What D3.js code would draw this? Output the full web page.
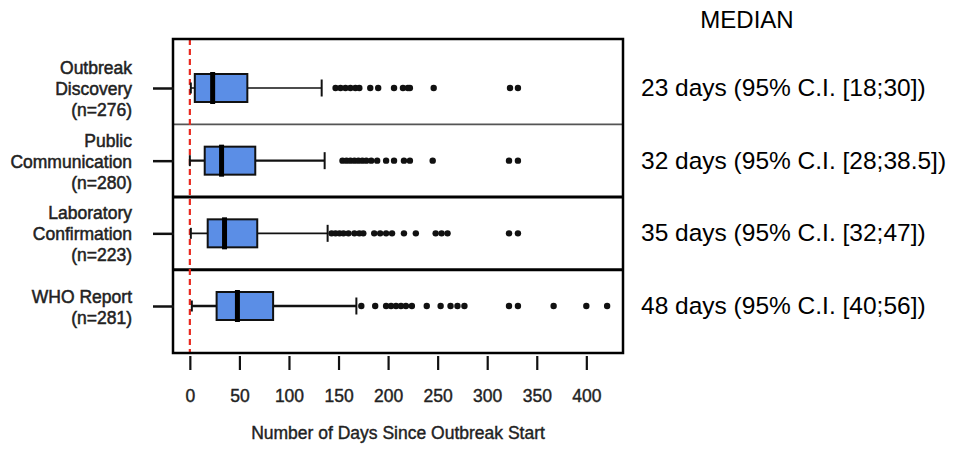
<!DOCTYPE html>
<html>
<head>
<meta charset="utf-8">
<script src="https://cdn.jsdelivr.net/npm/d3@7"></script>
<style>
    body { margin: 0; background: #fff; }
    svg { display: block; font-family: "Liberation Sans", Arial, sans-serif; }
</style>
</head>
<body>
<script>
// rows, top to bottom
const categories = ["Outbreak Discovery", "Public Communication", "Laboratory Confirmation", "WHO Report"];
const labelLines = [
    ["Outbreak", "Discovery", "(n=276)"],
    ["Public", "Communication", "(n=280)"],
    ["Laboratory", "Confirmation", "(n=223)"],
    ["WHO Report", "(n=281)"]
];

// box plot stats (days)
const whiskerLow = [1, 0, 1, 2];
const q1 = [5, 15, 18, 27];
const medians = [23, 32, 35, 48];
const q3 = [58, 66, 68, 84];
const whiskerHigh = [133, 136, 139, 168];

const outliers = [
    [147, 152, 157, 162, 167, 171, 182, 190, 206, 215, 220, 222, 246, 323, 331],
    [154, 158, 162, 166, 170, 174, 178, 183, 189, 198, 206, 216, 222, 245, 322, 331],
    [143, 147, 151, 155, 160, 166, 171, 175, 186, 192, 198, 204, 216, 228, 248, 254, 260, 322, 331],
    [173, 187, 198, 203, 208, 213, 218, 224, 239, 253, 263, 270, 277, 322, 331, 367, 400, 421]
];

// median with 95% C.I.
const ciLow = [18, 28, 32, 40];
const ciHigh = [30, 38.5, 47, 56];

const xTicks = [0, 50, 100, 150, 200, 250, 300, 350, 400];

const width = 961;
const height = 449;
const frame = { left: 173, right: 623, top: 39, bottom: 353 };

const svg = d3.select("body").append("svg")
    .attr("width", width)
    .attr("height", height);

const xScale = d3.scaleLinear()
    .domain([-17, 437])
    .range([frame.left, frame.right]);

const yScale = d3.scalePoint()
    .domain(categories)
    .range([88, 306]);

const step = yScale.step();

// row separators
categories.slice(1).forEach((c, i) => {
    svg.append("line")
        .attr("x1", frame.left).attr("x2", frame.right)
        .attr("y1", yScale(c) - step / 2).attr("y2", yScale(c) - step / 2)
        .attr("stroke", i === 0 ? "#555" : "#000")
        .attr("stroke-width", i === 0 ? 1.8 : 3);
});

// zero reference line
svg.append("line")
    .attr("x1", xScale(0)).attr("x2", xScale(0))
    .attr("y1", frame.top).attr("y2", frame.bottom)
    .attr("stroke", "#e8281e")
    .attr("stroke-width", 2.2)
    .attr("stroke-dasharray", "6,4");

const rows = svg.selectAll("g.row")
    .data(categories)
    .enter()
    .append("g")
    .attr("class", "row")
    .attr("transform", d => `translate(0, ${yScale(d)})`);

const boxH = 28;
const capH = 17;

// whisker line
rows.append("line")
    .attr("x1", (d, i) => xScale(whiskerLow[i]))
    .attr("x2", (d, i) => xScale(whiskerHigh[i]))
    .attr("stroke", "#111")
    .attr("stroke-width", (d, i) => i % 2 === 0 ? 1.6 : 2.4);

// whisker caps
rows.append("line")
    .attr("x1", (d, i) => xScale(whiskerLow[i]))
    .attr("x2", (d, i) => xScale(whiskerLow[i]))
    .attr("y1", -capH / 2 + 3).attr("y2", capH / 2 - 3)
    .attr("stroke", "#111").attr("stroke-width", 2);

rows.append("line")
    .attr("x1", (d, i) => xScale(whiskerHigh[i]))
    .attr("x2", (d, i) => xScale(whiskerHigh[i]))
    .attr("y1", -capH / 2).attr("y2", capH / 2)
    .attr("stroke", "#111").attr("stroke-width", 2);

// box
rows.append("rect")
    .attr("x", (d, i) => xScale(q1[i]))
    .attr("width", (d, i) => xScale(q3[i]) - xScale(q1[i]))
    .attr("y", -boxH / 2)
    .attr("height", boxH)
    .attr("fill", "#5b8ee6")
    .attr("stroke", "#111")
    .attr("stroke-width", 2);

// median bar
rows.append("line")
    .attr("x1", (d, i) => xScale(medians[i]))
    .attr("x2", (d, i) => xScale(medians[i]))
    .attr("y1", -boxH / 2 - 2).attr("y2", boxH / 2 + 2)
    .attr("stroke", "#000")
    .attr("stroke-width", 5);

// outliers
rows.each(function (d, i) {
    d3.select(this).selectAll("circle")
        .data(outliers[i])
        .enter()
        .append("circle")
        .attr("cx", v => xScale(v))
        .attr("cy", 0)
        .attr("r", 3.2)
        .attr("fill", "#111");
});

// frame
svg.append("rect")
    .attr("x", frame.left).attr("y", frame.top)
    .attr("width", frame.right - frame.left)
    .attr("height", frame.bottom - frame.top)
    .attr("fill", "none")
    .attr("stroke", "#000")
    .attr("stroke-width", 2.5);

// x axis
const xAxis = d3.axisBottom(xScale)
    .tickValues(xTicks)
    .tickSize(14)
    .tickPadding(20);

const gx = svg.append("g")
    .attr("transform", `translate(0, ${frame.bottom + 3})`)
    .call(xAxis);
gx.select(".domain").remove();
gx.selectAll(".tick line").attr("stroke", "#111").attr("stroke-width", 2.2);
gx.selectAll(".tick text")
    .attr("fill", "#222")
    .attr("stroke", "#222")
    .attr("stroke-width", 0.4)
    .style("font-size", "17.5px")
    .style("font-family", "'Liberation Sans', Arial, sans-serif");

// y axis ticks
const yAxis = d3.axisLeft(yScale)
    .tickSize(21)
    .tickFormat("");
const gy = svg.append("g")
    .attr("transform", `translate(${frame.left + 1}, 0)`)
    .call(yAxis);
gy.select(".domain").remove();
gy.selectAll(".tick line").attr("stroke", "#111").attr("stroke-width", 2.5);

// row labels
const lineH = 21;
rows.append("text")
    .attr("text-anchor", "end")
    .attr("fill", "#222")
    .attr("stroke", "#222")
    .attr("stroke-width", 0.5)
    .style("font-size", "17.5px")
    .each(function (d, i) {
        const lines = labelLines[i];
        const t = d3.select(this);
        lines.forEach((ln, j) => {
            t.append("tspan")
                .attr("x", 132)
                .attr("y", (j - (lines.length - 1) / 2) * lineH + 7)
                .text(ln);
        });
    });

// x axis title
svg.append("text")
    .attr("x", (frame.left + frame.right) / 2)
    .attr("y", 439)
    .attr("text-anchor", "middle")
    .attr("fill", "#222")
    .attr("stroke", "#222")
    .attr("stroke-width", 0.4)
    .style("font-size", "17.5px")
    .text("Number of Days Since Outbreak Start");

// median column
svg.append("text")
    .attr("x", 747)
    .attr("y", 28)
    .attr("text-anchor", "middle")
    .attr("fill", "#000")
    .style("font-size", "24px")
    .text("MEDIAN");

rows.append("text")
    .attr("x", 641)
    .attr("y", 8)
    .attr("fill", "#000")
    .style("font-size", "24.5px")
    .text((d, i) => `${medians[i]} days (95% C.I. [${ciLow[i]};${ciHigh[i]}])`);
</script>
</body>
</html>
